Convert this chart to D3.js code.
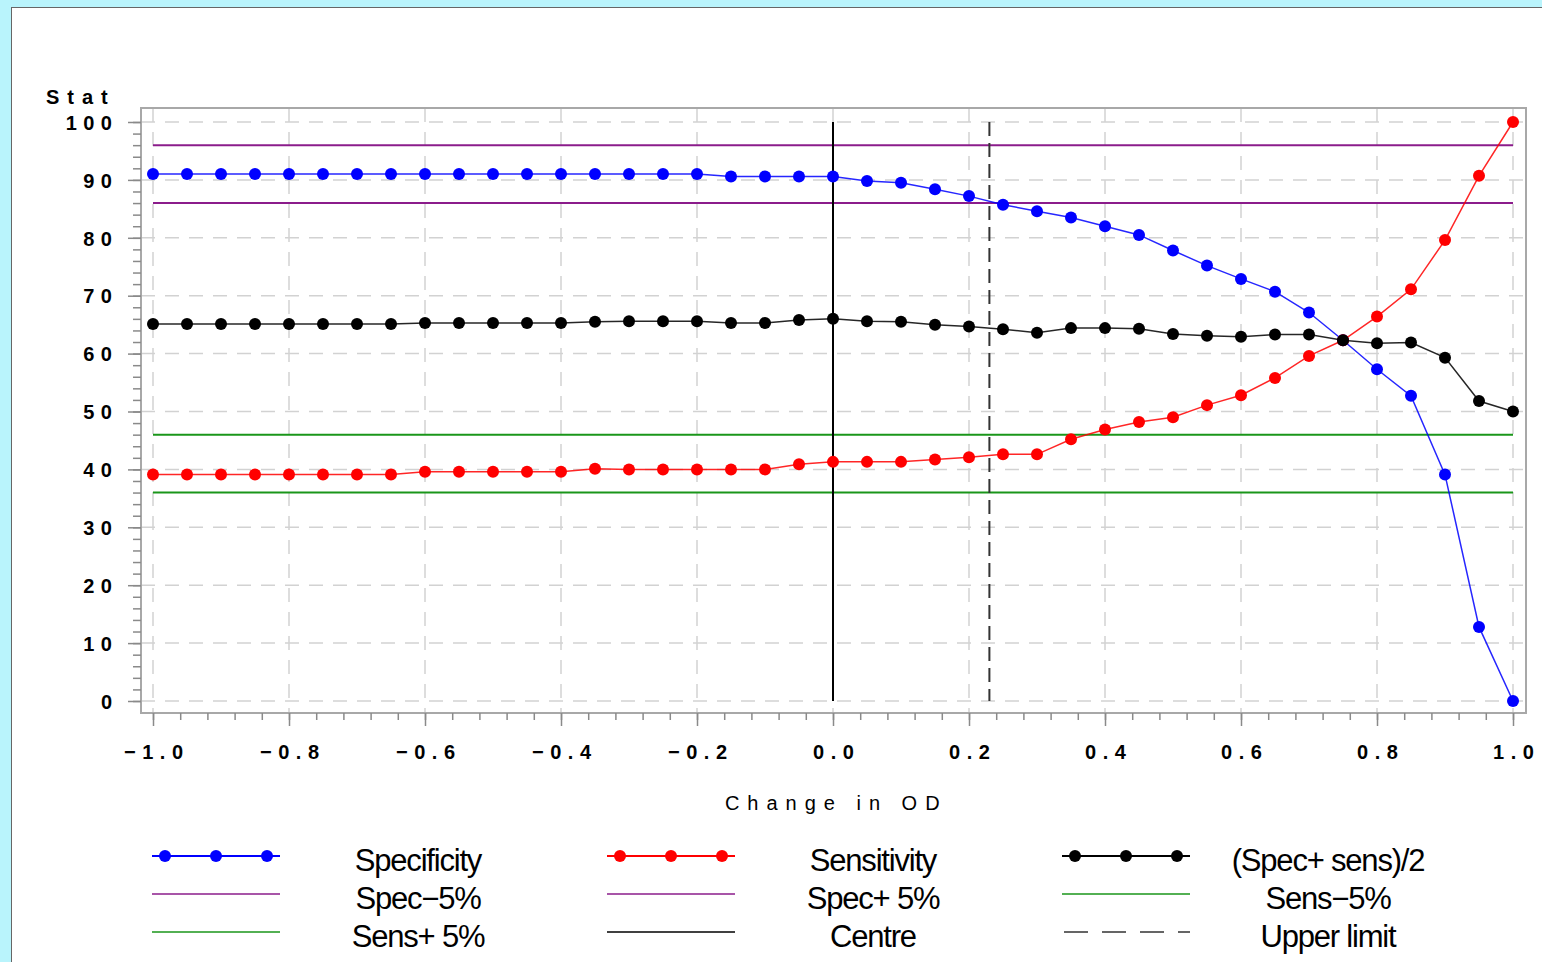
<!DOCTYPE html>
<html>
<head>
<meta charset="utf-8">
<script src="https://cdn.jsdelivr.net/npm/d3@7"></script>
<style>
    body { margin: 0; background: #b9f4fc; }
    svg { display: block; }
    text { font-family: "Liberation Sans", Arial, sans-serif; fill: #000; }
</style>
</head>
<body>
<svg id="chart"></svg>
<script>
"use strict";

// Data
const changeOD = [
    -1.0, -0.95, -0.9, -0.85, -0.8, -0.75, -0.7, -0.65, -0.6, -0.55,
    -0.5, -0.45, -0.4, -0.35, -0.3, -0.25, -0.2, -0.15, -0.1, -0.05,
    0.0, 0.05, 0.1, 0.15, 0.2, 0.25, 0.3, 0.35, 0.4, 0.45,
    0.5, 0.55, 0.6, 0.65, 0.7, 0.75, 0.8, 0.85, 0.9, 0.95, 1.0
];
const specificity = [
    91.0, 91.0, 91.0, 91.0, 91.0, 91.0, 91.0, 91.0, 91.0, 91.0,
    91.0, 91.0, 91.0, 91.0, 91.0, 91.0, 91.0, 90.6, 90.6, 90.6,
    90.6, 89.8, 89.5, 88.4, 87.2, 85.7, 84.6, 83.5, 82.0, 80.5,
    77.8, 75.2, 72.9, 70.7, 67.1, 62.3, 57.3, 52.7, 39.1, 12.8, 0.0
];
const sensitivity = [
    39.1, 39.1, 39.1, 39.1, 39.1, 39.1, 39.1, 39.1, 39.6, 39.6,
    39.6, 39.6, 39.6, 40.1, 40.0, 40.0, 40.0, 40.0, 40.0, 40.9,
    41.3, 41.3, 41.3, 41.7, 42.1, 42.6, 42.6, 45.2, 46.9, 48.2,
    49.0, 51.1, 52.8, 55.8, 59.6, 62.3, 66.4, 71.1, 79.6, 90.7, 100.0
];
const average = [
    65.1, 65.1, 65.1, 65.1, 65.1, 65.1, 65.1, 65.1, 65.3, 65.3,
    65.3, 65.3, 65.3, 65.5, 65.6, 65.6, 65.6, 65.3, 65.3, 65.8,
    66.0, 65.6, 65.5, 65.0, 64.7, 64.2, 63.6, 64.4, 64.4, 64.3,
    63.4, 63.1, 62.9, 63.3, 63.3, 62.3, 61.8, 61.9, 59.3, 51.8, 50.0
];

// reference levels
const specLevels = [96, 86];     // Spec+5%, Spec-5%
const sensLevels = [46, 36];     // Sens+5%, Sens-5%
const centreX = 0.0;
const upperLimitX = 0.23;

// tick labels
const yTicks = [0, 10, 20, 30, 40, 50, 60, 70, 80, 90, 100];
const xTicks = [-1.0, -0.8, -0.6, -0.4, -0.2, 0.0, 0.2, 0.4, 0.6, 0.8, 1.0];
const yLabel = "Stat";
const xLabel = "Change in OD";

// legend, column by column
const legendLabels = [
    ["Specificity", "Spec\u22125%", "Sens+ 5%"],
    ["Sensitivity", "Spec+ 5%", "Centre"],
    ["(Spec+ sens)/2", "Sens\u22125%", "Upper  limit"]
];
const legendKeys = [
    ["spec", "specRef", "sensRef"],
    ["sens", "specRef", "centre"],
    ["avg", "sensRef", "upper"]
];

// styles
const colors = {
    spec: "#0000ff",
    sens: "#ff0000",
    avg: "#000000",
    specRef: "#8b1c8b",
    sensRef: "#1a961a",
    centre: "#000000",
    upper: "#333333"
};
const grid = "#d2d2d2";
const frame = "#a8a8a8";

// Graph dimensions
const width = 1542;
const height = 962;
const plot = { left: 141, top: 108, right: 1526, bottom: 713 };

const svg = d3.select("#chart").attr("width", width).attr("height", height);

// white panel
svg.append("rect")
    .attr("x", 11.5).attr("y", 7.5)
    .attr("width", width).attr("height", height)
    .attr("fill", "#fff").attr("stroke", "#666").attr("stroke-width", 1);

const xScale = d3.scaleLinear().domain([-1, 1]).range([153, 1513]);
const yScale = d3.scaleLinear().domain([0, 100]).range([701, 122]);

// grid lines
svg.append("g").selectAll("line").data(yTicks).join("line")
    .attr("x1", plot.left).attr("x2", plot.right)
    .attr("y1", d => yScale(d)).attr("y2", d => yScale(d))
    .attr("stroke", grid).attr("stroke-width", 1.5).attr("stroke-dasharray", "14,10");
svg.append("g").selectAll("line").data(xTicks).join("line")
    .attr("x1", d => xScale(d)).attr("x2", d => xScale(d))
    .attr("y1", plot.top).attr("y2", plot.bottom)
    .attr("stroke", grid).attr("stroke-width", 1.5).attr("stroke-dasharray", "14,10");

// frame
svg.append("rect")
    .attr("x", plot.left).attr("y", plot.top)
    .attr("width", plot.right - plot.left).attr("height", plot.bottom - plot.top)
    .attr("fill", "none").attr("stroke", frame).attr("stroke-width", 2);

// axes
const ls = 6.5; // letter spacing of the axis text
const axisFont = "20px";

const yMinor = svg.append("g").attr("transform", `translate(${plot.left},0)`)
    .call(d3.axisLeft(yScale).tickValues(d3.range(0, 101, 2)).tickSize(8).tickFormat(""));
const yAxis = svg.append("g").attr("transform", `translate(${plot.left},0)`)
    .call(d3.axisLeft(yScale).tickValues(yTicks).tickSize(13).tickPadding(16).tickFormat(d3.format("d")));
const xMinor = svg.append("g").attr("transform", `translate(0,${plot.bottom})`)
    .call(d3.axisBottom(xScale).tickValues(d3.range(-1, 1.001, 0.04)).tickSize(7).tickFormat(""));
const xAxis = svg.append("g").attr("transform", `translate(0,${plot.bottom})`)
    .call(d3.axisBottom(xScale).tickValues(xTicks).tickSize(13).tickPadding(19)
        .tickFormat(d => d3.format(".1f")(d).replace("-", "\u2212")));

[yMinor, yAxis, xMinor, xAxis].forEach(a => {
    a.select(".domain").remove();
    a.selectAll(".tick line").attr("stroke", "#8a8a8a").attr("stroke-width", 1.5);
});
yAxis.selectAll("text")
    .style("font-size", axisFont).style("font-weight", "bold")
    .style("letter-spacing", `${ls}px`).attr("dx", ls).attr("dy", "0.36em");
xAxis.selectAll("text")
    .style("font-size", axisFont).style("font-weight", "bold")
    .style("letter-spacing", `${ls}px`).attr("dx", ls / 2);

svg.append("text")
    .attr("x", 46).attr("y", 104)
    .style("font-size", axisFont).style("font-weight", "bold")
    .style("letter-spacing", `${ls + 1.5}px`)
    .text(yLabel);

svg.append("text")
    .attr("x", 833 + ls / 2).attr("y", 810)
    .attr("text-anchor", "middle")
    .style("font-size", axisFont)
    .style("letter-spacing", `${ls + 1.5}px`)
    .text(xLabel);

// reference lines
svg.append("g").selectAll("line").data(specLevels).join("line")
    .attr("x1", xScale(-1)).attr("x2", xScale(1))
    .attr("y1", d => yScale(d)).attr("y2", d => yScale(d))
    .attr("stroke", colors.specRef).attr("stroke-width", 2);
svg.append("g").selectAll("line").data(sensLevels).join("line")
    .attr("x1", xScale(-1)).attr("x2", xScale(1))
    .attr("y1", d => yScale(d)).attr("y2", d => yScale(d))
    .attr("stroke", colors.sensRef).attr("stroke-width", 2);

svg.append("line")
    .attr("x1", xScale(centreX)).attr("x2", xScale(centreX))
    .attr("y1", yScale(100)).attr("y2", yScale(0))
    .attr("stroke", colors.centre).attr("stroke-width", 2);
svg.append("line")
    .attr("x1", xScale(upperLimitX)).attr("x2", xScale(upperLimitX))
    .attr("y1", yScale(100)).attr("y2", yScale(0))
    .attr("stroke", colors.upper).attr("stroke-width", 2).attr("stroke-dasharray", "14,7");

// series
const series = [
    { key: "spec", values: specificity },
    { key: "sens", values: sensitivity },
    { key: "avg", values: average }
];
const lineGen = d3.line()
    .x((d, i) => xScale(changeOD[i]))
    .y(d => yScale(d));

series.forEach(s => {
    const g = svg.append("g");
    g.append("path")
        .attr("d", lineGen(s.values))
        .attr("fill", "none")
        .attr("stroke", colors[s.key])
        .attr("stroke-width", 1.5)
        .attr("stroke-opacity", 0.85);
    g.selectAll("circle").data(s.values).join("circle")
        .attr("cx", (d, i) => xScale(changeOD[i]))
        .attr("cy", d => yScale(d))
        .attr("r", 6)
        .attr("fill", colors[s.key]);
});

// legend
const legendCol = [152, 607, 1062];
const legendRow = [856, 894, 932];
const symbolWidth = 128;
const markerOffsets = [13, 64, 115];

legendLabels.forEach((col, c) => {
    col.forEach((label, r) => {
        const key = legendKeys[c][r];
        const g = svg.append("g").attr("transform", `translate(${legendCol[c]},${legendRow[r]})`);
        const line = g.append("line")
            .attr("x1", 0).attr("x2", symbolWidth)
            .attr("stroke", colors[key])
            .attr("stroke-width", key === "spec" || key === "sens" || key === "avg" ? 2 : 1.5);
        if (key === "upper") line.attr("stroke-dasharray", "24,14").attr("x1", 2);
        if (key === "spec" || key === "sens" || key === "avg") {
            g.selectAll("circle").data(markerOffsets).join("circle")
                .attr("cx", d => d).attr("cy", 0).attr("r", 6)
                .attr("fill", colors[key]);
        }
        g.append("text")
            .attr("x", 266).attr("y", 15)
            .attr("text-anchor", "middle")
            .style("font-size", "31px")
            .style("letter-spacing", "-1.2px")
            .text(label);
    });
});
</script>
</body>
</html>
